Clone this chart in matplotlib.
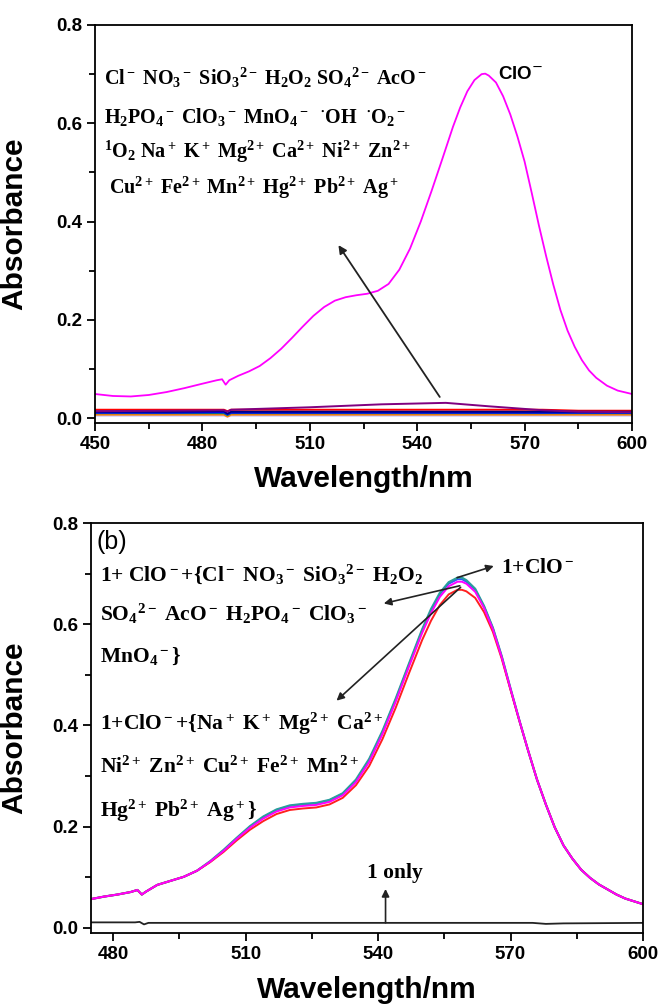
import matplotlib
matplotlib.use("Agg")
import matplotlib.pyplot as plt
from matplotlib.ticker import MultipleLocator, FormatStrFormatter

plt.rcParams['mathtext.fontset'] = 'custom'
plt.rcParams['mathtext.rm'] = 'Liberation Serif:bold'
plt.rcParams['mathtext.it'] = 'Liberation Serif:bold'
plt.rcParams['mathtext.bf'] = 'Liberation Serif:bold'
plt.rcParams['mathtext.default'] = 'rm'

# ---------------- data: panel (a) ----------------
wl_a = [450, 455, 460, 465, 470, 475, 480, 484, 485.5, 486.5, 487.5, 490, 493, 496, 499,
        502, 505, 508, 511, 514, 517, 520, 523, 526, 529, 532, 535, 538, 541, 544, 547,
        550, 552, 554, 556, 558, 559, 560, 562, 564, 566, 568, 570, 572, 574, 576, 578,
        580, 582, 584, 586, 588, 590, 593, 596, 600]
abs_clo = [0.049, 0.045, 0.044, 0.047, 0.053, 0.061, 0.070, 0.077, 0.079, 0.068, 0.077,
           0.086, 0.095, 0.106, 0.122, 0.141, 0.163, 0.186, 0.208, 0.226, 0.239, 0.246,
           0.250, 0.253, 0.259, 0.273, 0.302, 0.345, 0.400, 0.462, 0.527, 0.593, 0.632,
           0.665, 0.688, 0.700, 0.701, 0.697, 0.683, 0.655, 0.618, 0.573, 0.522, 0.458,
           0.392, 0.330, 0.272, 0.220, 0.178, 0.145, 0.118, 0.097, 0.082, 0.066, 0.056,
           0.049]

wl_flat = [450, 470, 486, 487, 488, 510, 530, 548, 560, 575, 585, 600]
flat_lines = {
    '#ff0000': [0.017, 0.017, 0.017, 0.014, 0.017, 0.017, 0.017, 0.017, 0.017, 0.017, 0.015, 0.015],
    '#c0c0ff': [0.005, 0.005, 0.005, 0.003, 0.005, 0.005, 0.005, 0.005, 0.005, 0.005, 0.005, 0.005],
    '#ff8000': [0.007, 0.007, 0.007, 0.003, 0.007, 0.007, 0.007, 0.007, 0.007, 0.007, 0.007, 0.007],
    '#008080': [0.010, 0.010, 0.010, 0.006, 0.010, 0.010, 0.010, 0.010, 0.010, 0.010, 0.010, 0.010],
    '#0000ff': [0.011, 0.011, 0.012, 0.008, 0.011, 0.011, 0.011, 0.011, 0.011, 0.011, 0.011, 0.011],
    '#000080': [0.013, 0.013, 0.014, 0.009, 0.013, 0.013, 0.013, 0.013, 0.013, 0.013, 0.013, 0.013],
    '#800080': [0.014, 0.015, 0.016, 0.013, 0.017, 0.022, 0.028, 0.031, 0.024, 0.016, 0.013, 0.012],
}

ions_a = [r"Cl$^-$ NO$_3$$^-$ SiO$_3$$^{2-}$ H$_2$O$_2$ SO$_4$$^{2-}$ AcO$^-$",
          r"H$_2$PO$_4$$^-$ ClO$_3$$^-$ MnO$_4$$^-$  $^{\bullet}$OH  $^{\bullet}$O$_2$$^-$",
          r"$^1$O$_2$ Na$^+$ K$^+$ Mg$^{2+}$ Ca$^{2+}$ Ni$^{2+}$ Zn$^{2+}$",
          r" Cu$^{2+}$ Fe$^{2+}$ Mn$^{2+}$ Hg$^{2+}$ Pb$^{2+}$ Ag$^+$"]

# ---------------- data: panel (b) ----------------
wl_b = [475, 478, 481, 484, 485.5, 486.5, 487.5, 490, 493, 496, 499, 502, 505, 508, 511,
        514, 517, 520, 523, 526, 529, 532, 535, 538, 541, 544, 547, 550, 552, 554, 556,
        558, 559, 560, 562, 564, 566, 568, 570, 572, 574, 576, 578, 580, 582, 584, 586,
        588, 590, 592, 594, 596, 600]
abs_magenta = [0.057, 0.062, 0.066, 0.071, 0.075, 0.066, 0.072, 0.085, 0.093, 0.101, 0.113,
               0.131, 0.152, 0.176, 0.198, 0.216, 0.230, 0.238, 0.241, 0.243, 0.249, 0.262,
               0.288, 0.328, 0.383, 0.447, 0.516, 0.583, 0.622, 0.654, 0.675, 0.684, 0.684,
               0.680, 0.664, 0.632, 0.590, 0.535, 0.472, 0.410, 0.350, 0.293, 0.244, 0.199,
               0.163, 0.137, 0.115, 0.099, 0.086, 0.076, 0.066, 0.058, 0.047]
# differences of the other curves from the magenta curve
d_teal = [0, 0, 0, 0, 0, 0, 0, 0, 0, 0, 0, 0.001, 0.002, 0.002, 0.003, 0.004, 0.004, 0.004,
          0.004, 0.004, 0.004, 0.004, 0.005, 0.006, 0.006, 0.006, 0.006, 0.007, 0.008, 0.008,
          0.008, 0.008, 0.008, 0.007, 0.006, 0.004, 0.003, 0.002, 0.001, 0, 0, 0, 0, 0, 0, 0,
          0, 0, 0, 0, 0, 0, 0]
d_blue = [0, 0, 0, 0, 0, 0, 0, 0, 0, 0, 0, 0, 0.001, 0.001, 0.002, 0.003, 0.003, 0.003,
          0.003, 0.003, 0.003, 0.003, 0.003, 0.004, 0.004, 0.004, 0.004, 0.005, 0.005, 0.005,
          0.005, 0.005, 0.005, 0.004, 0.004, 0.003, 0.002, 0.001, 0, 0, 0, 0, 0, 0, 0, 0,
          0, 0, 0, 0, 0, 0, 0]
d_red = [0, 0, 0, 0, 0, 0, 0, 0, 0, 0, 0, -0.001, -0.002, -0.003, -0.004, -0.005, -0.005,
         -0.005, -0.005, -0.005, -0.005, -0.005, -0.006, -0.008, -0.010, -0.012, -0.013,
         -0.014, -0.015, -0.016, -0.016, -0.016, -0.016, -0.015, -0.012, -0.008, -0.005,
         -0.003, -0.002, -0.001, 0, 0, 0, 0, 0, 0, 0, 0, 0, 0, 0, 0, 0]

wl_one = [475, 485, 486, 487, 488, 500, 540, 575, 578, 582, 600]
abs_one = [0.011, 0.011, 0.012, 0.007, 0.010, 0.010, 0.010, 0.010, 0.008, 0.009, 0.010]

ions_b = [r"1+ ClO$^-$+{Cl$^-$ NO$_3$$^-$ SiO$_3$$^{2-}$ H$_2$O$_2$",
          r"SO$_4$$^{2-}$ AcO$^-$ H$_2$PO$_4$$^-$ ClO$_3$$^-$",
          r"MnO$_4$$^-$}",
          r"1+ClO$^-$+{Na$^+$ K$^+$ Mg$^{2+}$ Ca$^{2+}$",
          r"Ni$^{2+}$ Zn$^{2+}$ Cu$^{2+}$ Fe$^{2+}$ Mn$^{2+}$",
          r"Hg$^{2+}$ Pb$^{2+}$ Ag$^+$}"]

# ---------------- figure ----------------
W, H = 661, 1005
fig = plt.figure(figsize=(W / 100, H / 100), dpi=100)
ax1 = fig.add_axes([95 / W, 1 - 423 / H, 537 / W, 398 / H])
ax2 = fig.add_axes([91 / W, 1 - 933 / H, 552 / W, 410 / H])

sans = 'Liberation Sans'
serif = 'Liberation Serif'

def style(ax, xlim, label_x):
    ax.set_ylim(-0.01, 0.8)
    ax.set_xlim(*xlim)
    ax.xaxis.set_major_locator(MultipleLocator(30))
    ax.xaxis.set_minor_locator(MultipleLocator(15))
    ax.yaxis.set_major_locator(MultipleLocator(0.2))
    ax.yaxis.set_minor_locator(MultipleLocator(0.1))
    ax.yaxis.set_major_formatter(FormatStrFormatter('%.1f'))
    ax.tick_params(which='both', direction='out', top=False, right=False, width=1.3, colors='black')
    ax.tick_params(which='major', length=6, pad=3)
    ax.tick_params(which='minor', length=4)
    for lab in ax.get_xticklabels() + ax.get_yticklabels():
        lab.set_fontfamily(sans)
        lab.set_fontweight('bold')
        lab.set_fontsize(13.5)
    for sp in ax.spines.values():
        sp.set_linewidth(1.3)
    ax.set_xlabel('Wavelength/nm', fontfamily=sans, fontweight='bold', fontsize=21.5)
    ax.set_ylabel('Absorbance', fontfamily=sans, fontweight='bold', fontsize=21.5)
    ax.xaxis.set_label_coords(0.5, -0.105)
    ax.yaxis.set_label_coords(label_x, 0.5)

# panel (a)
for col, vals in flat_lines.items():
    ax1.plot(wl_flat, vals, color=col, lw=1.4)
ax1.plot(wl_a, abs_clo, color='#ff00ff', lw=1.3)
style(ax1, (450, 600), -0.125)
ax1.set_xticks([450, 480, 510, 540, 570, 600])
for i, t in enumerate(ions_a):
    ax1.text(452.5, [0.692, 0.612, 0.542, 0.468][i], t,
             fontfamily=serif, fontweight='bold', fontsize=14.5, va='center', ha='left')
ax1.text(562.5, 0.700, r'ClO$^{-}$', fontfamily=sans, fontweight='bold', fontsize=13.5,
         va='center', ha='left', math_fontfamily='dejavusans')
ax1.annotate('', xy=(518.0, 0.352), xytext=(546.3, 0.043),
             arrowprops=dict(arrowstyle='-|>', color='#222222', lw=1.3,
                             mutation_scale=12, shrinkA=0, shrinkB=0))

# panel (b)
teal = [m + d for m, d in zip(abs_magenta, d_teal)]
blue = [m + d for m, d in zip(abs_magenta, d_blue)]
red = [m + d for m, d in zip(abs_magenta, d_red)]
ax2.plot(wl_b, blue, color='#3050ff', lw=1.4)
ax2.plot(wl_b, teal, color='#2a9d9d', lw=1.6)
ax2.plot(wl_b, red, color='#ff2020', lw=1.4)
ax2.plot(wl_b, abs_magenta, color='#ff00ff', lw=1.4)
ax2.plot(wl_one, abs_one, color='#222222', lw=1.3)
style(ax2, (475, 600), -0.114)
ax2.set_xticks([480, 510, 540, 570, 600])
ax2.text(476.3, 0.762, '(b)', fontfamily=sans, fontsize=18, va='center', ha='left')
for i, t in enumerate(ions_b):
    ax2.text(477.0, [0.699, 0.620, 0.537, 0.403, 0.317, 0.232][i], t,
             fontfamily=serif, fontweight='bold', fontsize=15.5, va='center', ha='left')
ax2.text(567.8, 0.712, r'1+ClO$^-$', fontfamily=serif, fontweight='bold', fontsize=15.5,
         va='center', ha='left')
arrow_kw = dict(arrowstyle='-|>', color='#222222', lw=1.2, mutation_scale=11, shrinkA=0, shrinkB=0)
ax2.annotate('', xy=(566.2, 0.715), xytext=(557.9, 0.692), arrowprops=arrow_kw)
ax2.annotate('', xy=(541.3, 0.641), xytext=(558.5, 0.676), arrowprops=arrow_kw)
ax2.annotate('', xy=(530.6, 0.449), xytext=(558.7, 0.673), arrowprops=arrow_kw)
ax2.annotate('', xy=(541.7, 0.077), xytext=(541.7, 0.010), arrowprops=arrow_kw)
ax2.text(543.8, 0.108, '1 only', fontfamily=serif, fontweight='bold', fontsize=15.5,
         va='center', ha='center')

fig.savefig('out.png', dpi=100)
